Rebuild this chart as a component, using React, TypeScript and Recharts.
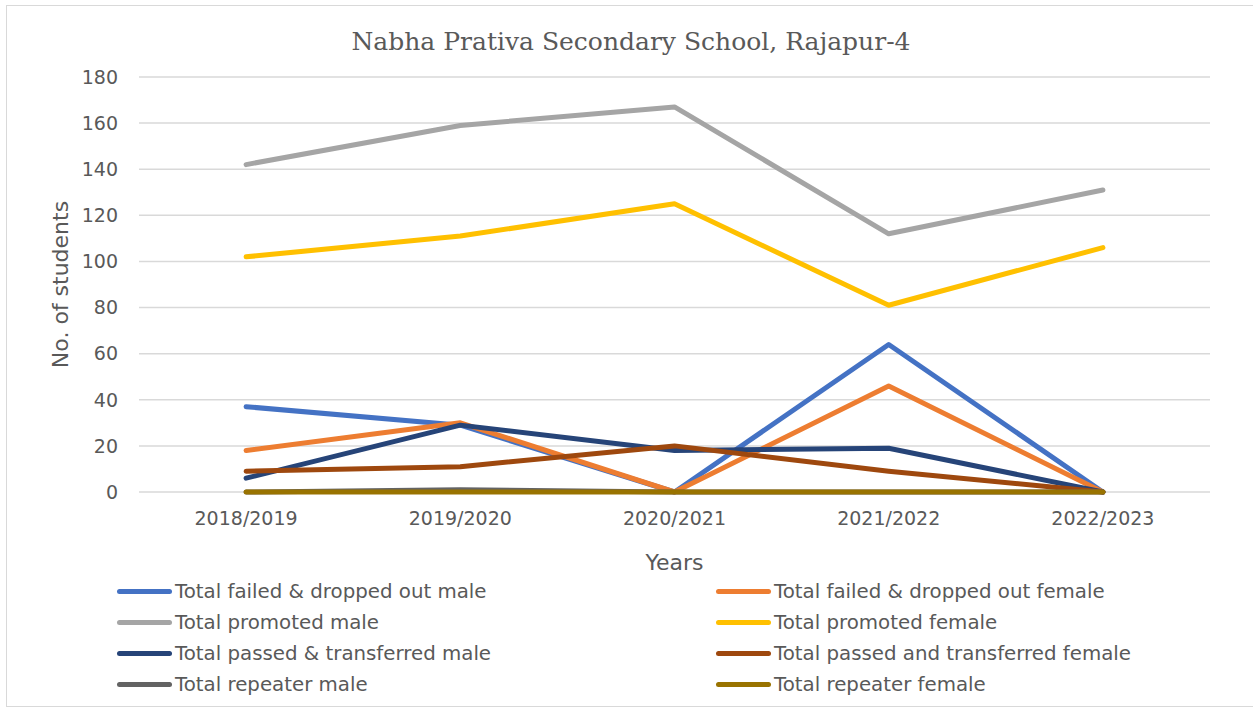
import { CartesianGrid, Line, LineChart, XAxis, YAxis } from 'recharts';

// school years on the category axis
const years = ['2018/2019', '2019/2020', '2020/2021', '2021/2022', '2022/2023'];

const failedMale = [37, 29, 0, 64, 0];
const failedFemale = [18, 30, 0, 46, 0];
const promotedMale = [142, 159, 167, 112, 131];
const promotedFemale = [102, 111, 125, 81, 106];
const passedMale = [6, 29, 18, 19, 0];
const passedFemale = [9, 11, 20, 9, 0];
const repeaterMale = [0, 1, 0, 0, 0];
const repeaterFemale = [0, 0, 0, 0, 0];

const yTicks = [0, 20, 40, 60, 80, 100, 120, 140, 160, 180];

const series = [
  { key: 'failedMale', name: 'Total failed & dropped out male', values: failedMale, color: '#4472C4' },
  { key: 'failedFemale', name: 'Total failed & dropped out female', values: failedFemale, color: '#ED7D31' },
  { key: 'promotedMale', name: 'Total promoted male', values: promotedMale, color: '#A5A5A5' },
  { key: 'promotedFemale', name: 'Total promoted female', values: promotedFemale, color: '#FFC000' },
  { key: 'passedMale', name: 'Total passed & transferred male', values: passedMale, color: '#264478' },
  { key: 'passedFemale', name: 'Total passed and transferred female', values: passedFemale, color: '#9E480E' },
  { key: 'repeaterMale', name: 'Total repeater male', values: repeaterMale, color: '#636363' },
  { key: 'repeaterFemale', name: 'Total repeater female', values: repeaterFemale, color: '#997300' },
];

const data = years.map((year, i) => {
  const row: Record<string, string | number> = { year };
  series.forEach((s) => {
    row[s.key] = s.values[i];
  });
  return row;
});

const textColor = '#595959';
const font = "'DejaVu Sans', sans-serif";

export default function App() {
  return (
    <div style={{ position: 'absolute', left: 0, top: 0, width: 1253, height: 713, background: '#fff', fontFamily: font }}>
      <div
        style={{
          position: 'absolute',
          left: 6,
          top: 5,
          width: 1253,
          height: 702,
          border: '1.5px solid #d9d9d9',
          boxSizing: 'border-box',
        }}
      />
      <div
        style={{
          position: 'absolute',
          left: 0,
          width: 1262,
          top: 27,
          textAlign: 'center',
          fontFamily: "'DejaVu Serif', serif",
          fontSize: 25,
          color: textColor,
        }}
      >
        Nabha Prativa Secondary School, Rajapur-4
      </div>

      <div style={{ position: 'absolute', left: 0, top: 0 }}>
        <LineChart width={1253} height={713} data={data} margin={{ top: 77, right: 43, left: 40, bottom: 141 }}>
          <CartesianGrid vertical={false} stroke='#d9d9d9' strokeWidth={1.5} />
          <XAxis
            dataKey='year'
            scale='band'
            axisLine={false}
            tickLine={false}
            tickSize={0}
            tickMargin={20}
            height={80}
            tick={{ fill: textColor, fontSize: 19, fontFamily: font }}
            label={{ value: 'Years', position: 'insideBottom', offset: 2, fill: textColor, fontSize: 22, fontFamily: font }}
          />
          <YAxis
            width={99}
            domain={[0, 180]}
            ticks={yTicks}
            axisLine={false}
            tickLine={false}
            tickSize={0}
            tickMargin={21}
            tick={{ fill: textColor, fontSize: 19, fontFamily: font }}
            label={{
              value: 'No. of students',
              angle: -90,
              position: 'insideLeft',
              offset: 20,
              fill: textColor,
              fontSize: 22,
              fontFamily: font,
              style: { textAnchor: 'middle' },
            }}
          />
          {series.map((s) => (
            <Line
              key={s.key}
              dataKey={s.key}
              name={s.name}
              stroke={s.color}
              strokeWidth={5}
              strokeLinecap='round'
              strokeLinejoin='round'
              dot={false}
              activeDot={false}
              isAnimationActive={false}
            />
          ))}
        </LineChart>
      </div>

      {/* legend, two columns like the excel one */}
      <div style={{ position: 'absolute', left: 0, top: 577 }}>
        {series.map((s, i) => (
          <div
            key={s.key}
            style={{
              position: 'absolute',
              left: i % 2 === 0 ? 117 : 716,
              top: Math.floor(i / 2) * 31,
              display: 'flex',
              alignItems: 'center',
              whiteSpace: 'nowrap',
              height: 28,
            }}
          >
            <div style={{ width: 55, height: 5, borderRadius: 3, background: s.color, marginRight: 3 }} />
            <span style={{ fontSize: 19.8, color: textColor }}>{s.name}</span>
          </div>
        ))}
      </div>
    </div>
  );
}
